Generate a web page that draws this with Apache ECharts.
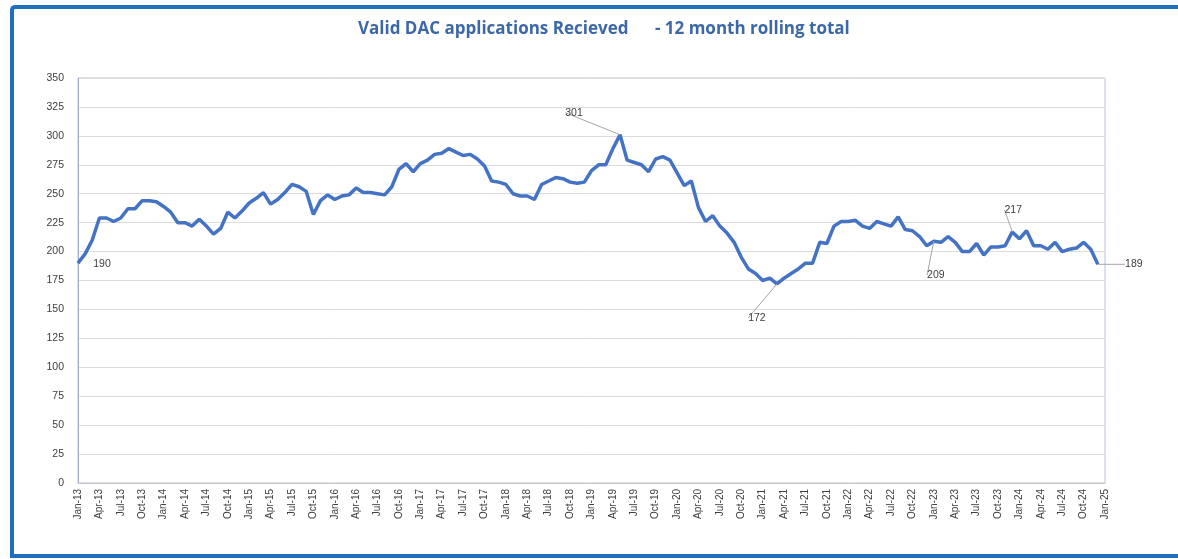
<!DOCTYPE html>
<html>
<head>
<meta charset="utf-8">
<script src="https://cdn.jsdelivr.net/npm/echarts@6/dist/echarts.min.js"></script>
<style>
  html, body { margin: 0; padding: 0; background: #fff; }
  #frame {
    position: absolute; left: 10px; top: 5px; width: 1180px; height: 545px;
    border-left: 4px solid #1f6fc0; border-top: 4px solid #1f6fc0; border-bottom: 4px solid #1f6fc0;
    border-top-left-radius: 5px;
  }
  #chart { position: absolute; left: 0; top: 0; width: 1178px; height: 559px; }
</style>
</head>
<body>
<div id="frame"></div>
<div id="chart"></div>
<script>
// month labels Jan-13 .. Jan-25
var monthNames = ['Jan', 'Feb', 'Mar', 'Apr', 'May', 'Jun', 'Jul', 'Aug', 'Sep', 'Oct', 'Nov', 'Dec']
var categories = []
for (var y = 13; y <= 25; y++) {
  for (var m = 0; m < 12; m++) {
    if (y === 25 && m > 0) break
    categories.push(monthNames[m] + '-' + y)
  }
}

// 12 month rolling total, Jan-13 .. Dec-24
var rollingTotal = [
  190, 198, 210, 229, 229, 226, 229, 237, 237, 244, 244, 243,
  239, 234, 225, 225, 222, 228, 222, 215, 220, 234, 229, 235,
  242, 246, 251, 241, 245, 251, 258, 256, 252, 232, 244, 249,
  245, 248, 249, 255, 251, 251, 250, 249, 256, 271, 276, 269,
  276, 279, 284, 285, 289, 286, 283, 284, 280, 274, 261, 260,
  258, 250, 248, 248, 245, 258, 261, 264, 263, 260, 259, 260,
  270, 275, 275, 289, 301, 279, 277, 275, 269, 280, 282, 279,
  268, 257, 261, 238, 226, 231, 222, 216, 208, 195, 185, 181,
  175, 177, 172, 177, 181, 185, 190, 190, 208, 207, 222, 226,
  226, 227, 222, 220, 226, 224, 222, 230, 219, 218, 213, 205,
  209, 208, 213, 208, 200, 200, 207, 197, 204, 204, 205, 217,
  211, 218, 205, 205, 202, 208, 200, 202, 203, 208, 202, 189
]

// points carrying a data label
var labelledIdx = [0, 76, 98, 120, 131, 143]

var chart = echarts.init(document.getElementById('chart'))

var seriesData = rollingTotal.map(function (v, i) {
  if (labelledIdx.indexOf(i) < 0) return v
  return { value: v, label: { show: true }, labelLine: { show: i !== 0 } }
})

// label offsets (dx, dy) relative to the point
var labelShift = {
  0: [24, 1],
  76: [-46, -22],
  98: [-20, 34],
  120: [2, 34],
  131: [1, -22],
  143: [36, 0]
}

chart.setOption({
  animation: false,
  title: {
    text: 'Valid DAC applications Recieved      - 12 month rolling total',
    left: 353,
    top: 16,
    textStyle: {
      color: '#3c68a8',
      fontFamily: 'Open Sans',
      fontWeight: 'bold',
      fontSize: 17
    }
  },
  grid: {
    left: 78,
    right: 73,
    top: 78,
    bottom: 76,
    show: true,
    borderColor: '#b8c4d6',
    borderWidth: 1
  },
  xAxis: {
    type: 'category',
    data: categories,
    boundaryGap: false,
    axisLine: { lineStyle: { color: '#c8c8c8' } },
    axisTick: { show: false },
    axisLabel: {
      interval: 2,
      rotate: 90,
      fontSize: 10,
      color: '#404040',
      fontFamily: 'Liberation Sans',
      margin: 6
    }
  },
  yAxis: {
    type: 'value',
    min: 0,
    max: 350,
    interval: 25,
    axisLine: { show: true, lineStyle: { color: '#9fb0c8' } },
    axisTick: { show: false },
    axisLabel: {
      fontSize: 10.5,
      color: '#404040',
      fontFamily: 'Liberation Sans',
      margin: 14
    },
    splitLine: { lineStyle: { color: '#dcdcdc' } }
  },
  series: [{
    type: 'line',
    data: seriesData,
    symbol: 'circle',
    symbolSize: 0,
    showSymbol: true,
    lineStyle: { color: '#4472c4', width: 3.5 },
    itemStyle: { color: '#4472c4' },
    label: {
      show: false,
      position: 'inside',
      fontSize: 10.5,
      color: '#404040',
      fontFamily: 'Liberation Sans'
    },
    labelLine: {
      show: true,
      lineStyle: { color: '#a6a6a6', width: 1 }
    },
    labelLayout: function (p) {
      var s = labelShift[p.dataIndex]
      if (!s) return {}
      return { dx: s[0], dy: s[1] }
    }
  }]
})
</script>
</body>
</html>
